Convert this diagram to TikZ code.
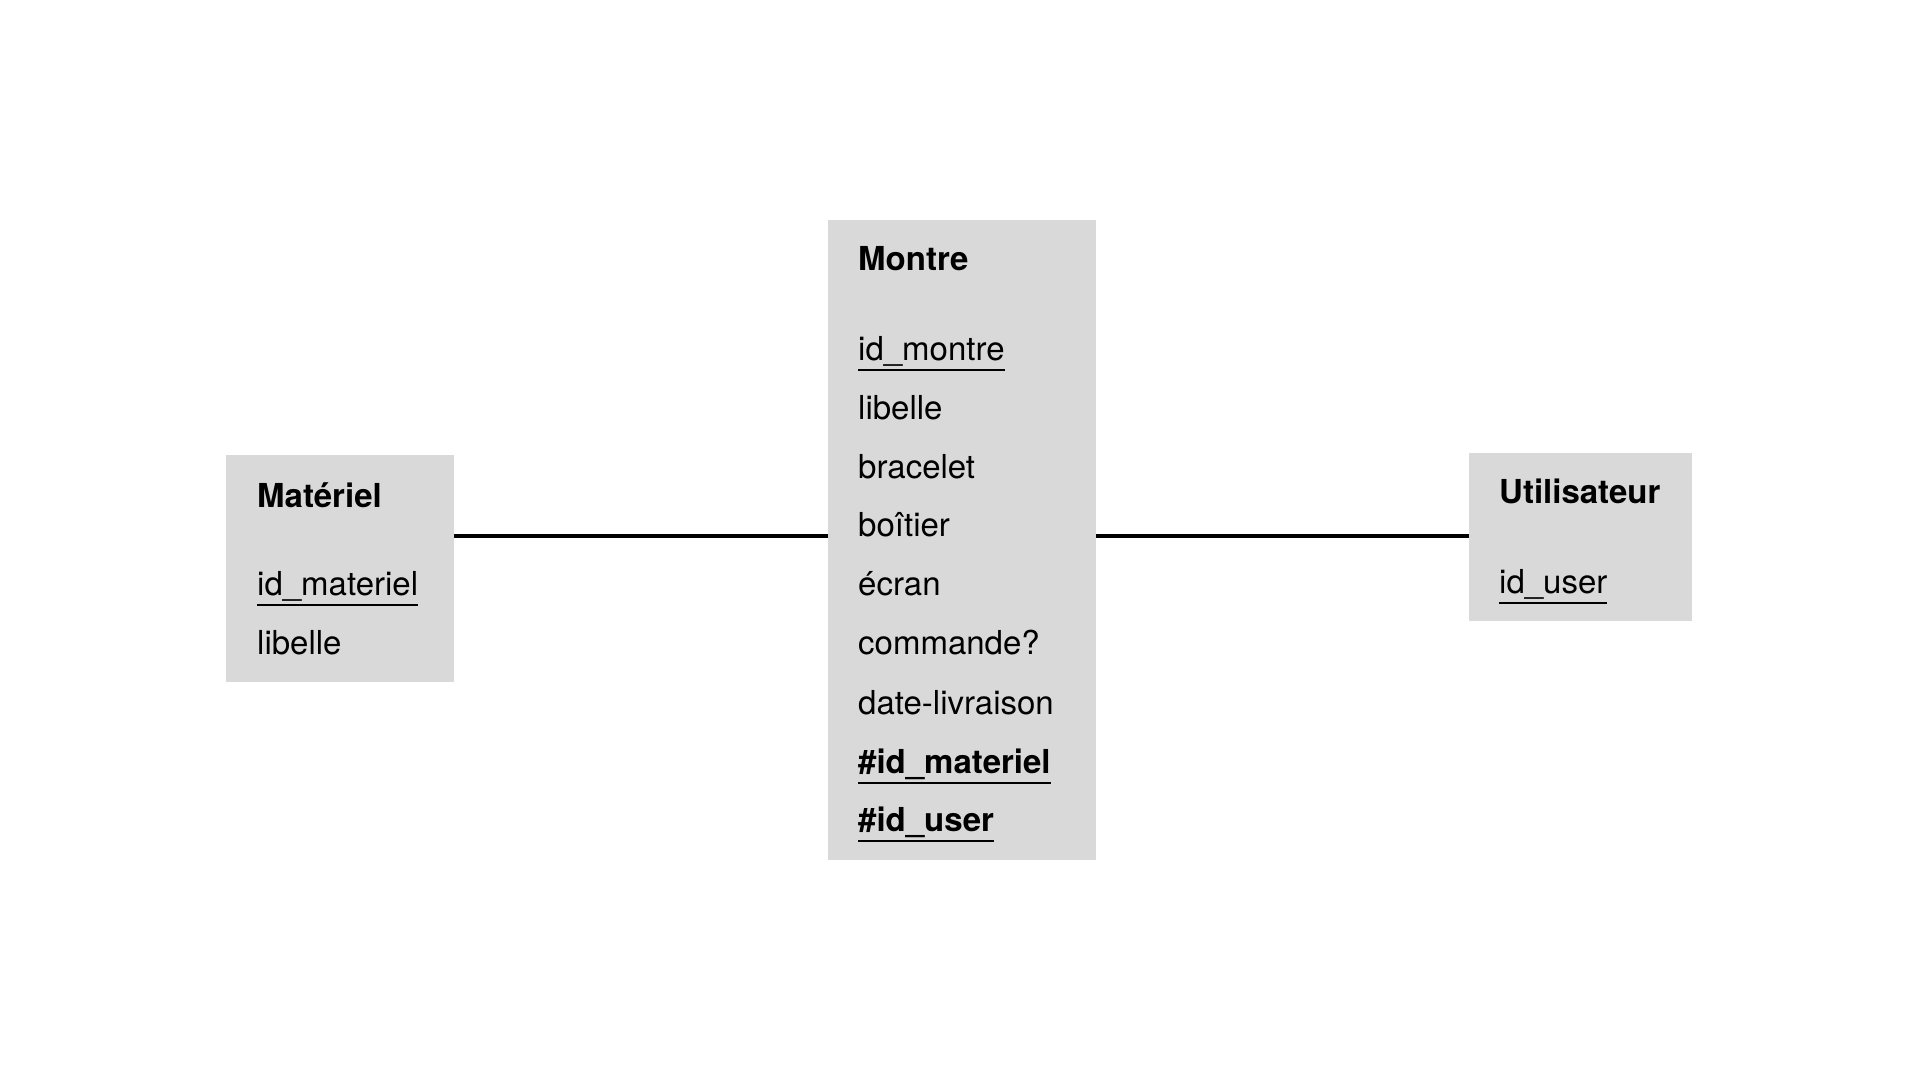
\documentclass[tikz,border=0pt]{standalone}
\usepackage{fontspec}
\setmainfont{TeX Gyre Heros}
\usepackage{xcolor}
\usetikzlibrary{calc}
\definecolor{boxgray}{RGB}{217,217,217}
\newcommand{\souligne}[1]{\leavevmode\vtop{\hbox{#1}\kern2.5pt\hrule height 2pt}}
\tikzset{
  entity/.style={rectangle, fill=boxgray, draw=none, anchor=north west, inner sep=0pt},
  titre/.style={anchor=mid west, inner sep=0pt, font=\fontsize{33}{40}\selectfont\bfseries},
  attr/.style={anchor=mid west, inner sep=0pt, font=\fontsize{33}{40}\selectfont},
  lien/.style={line width=3.5pt, black}
}
\begin{document}
\begin{tikzpicture}[x=1pt,y=-1pt]
\useasboundingbox (0,0) rectangle (1920,1080);
\node[entity, minimum width=228pt, minimum height=227pt] (materiel) at (226,455) {};
\node[entity, minimum width=268pt, minimum height=640pt] (montre) at (828,220) {};
\node[entity, minimum width=223pt, minimum height=168pt] (utilisateur) at (1469,453) {};
\node[titre] (t1) at (257,505) {Matériel};
\node[attr] (m1) at (257,593) {\souligne{id\_materiel}};
\node[attr] (m2) at (257,652) {libelle};
\node[titre] (t2) at (858,268) {Montre};
\node[attr] (w1) at (858,358) {\souligne{id\_montre}};
\node[attr] (w2) at (858,417) {libelle};
\node[attr] (w3) at (858,476) {bracelet};
\node[attr] (w4) at (858,534) {boîtier};
\node[attr] (w5) at (858,593) {écran};
\node[attr] (w6) at (858,652) {commande?};
\node[attr] (w7) at (858,712) {date-livraison};
\node[attr] (w8) at (858,771) {\souligne{\textbf{\#id\_materiel}}};
\node[attr] (w9) at (858,829) {\souligne{\textbf{\#id\_user}}};
\node[titre] (t3) at (1499,501) {Utilisateur};
\node[attr] (u1) at (1499,591) {\souligne{id\_user}};
\coordinate (y) at (0,536);
\draw[lien] (materiel.east |- y) -- (montre.west |- y);
\draw[lien] (montre.east |- y) -- (utilisateur.west |- y);
\end{tikzpicture}
\end{document}
